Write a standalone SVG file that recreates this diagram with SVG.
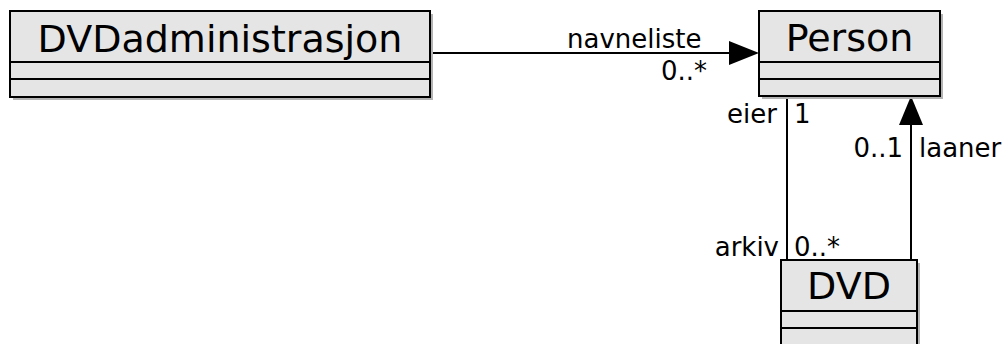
<svg xmlns="http://www.w3.org/2000/svg" width="1006" height="344" viewBox="0 0 1006 344">
<defs>
<style>
.shadow{fill:#b3b3b3;stroke:none}
.box{fill:#e5e5e5;stroke:#000;stroke-width:2}
.div{stroke:#000;stroke-width:2;fill:none}
.title{font-family:"DejaVu Sans",sans-serif;font-size:38px;fill:#000;text-anchor:middle}
.lbl{font-family:"DejaVu Sans",sans-serif;font-size:26px;fill:#000}
.line{stroke:#000;stroke-width:2;fill:none}
.head{fill:#000;stroke:none}
</style>
</defs>
<rect width="1006" height="344" fill="#fff"/>
<g id="connectors">
<line class="line" x1="430" y1="53" x2="731" y2="53"/>
<polygon class="head" points="759,53 729,41 729,65"/>
<line class="line" x1="787" y1="96" x2="787" y2="260"/>
<line class="line" x1="911" y1="123" x2="911" y2="260"/>
<polygon class="head" points="911,96 899,125 923,125"/>
<text class="lbl" x="567" y="48">navneliste</text>
<text class="lbl" x="707" y="80" text-anchor="end">0..*</text>
<text class="lbl" x="777" y="123" text-anchor="end">eier</text>
<text class="lbl" x="794" y="123">1</text>
<text class="lbl" x="903" y="157" text-anchor="end">0..1</text>
<text class="lbl" x="919" y="157">laaner</text>
<text class="lbl" x="779" y="256" text-anchor="end">arkiv</text>
<text class="lbl" x="794" y="256">0..*</text>
</g>
<g id="DVDadministrasjon">
<rect class="shadow" x="13" y="14" width="420" height="86"/>
<rect class="box" x="10" y="11" width="420" height="86"/>
<line class="div" x1="10" y1="62" x2="430" y2="62"/>
<line class="div" x1="10" y1="79" x2="430" y2="79"/>
<text class="title" x="220" y="52">DVDadministrasjon</text>
</g>
<g id="Person">
<rect class="shadow" x="762" y="14" width="181" height="85"/>
<rect class="box" x="759" y="11" width="181" height="85"/>
<line class="div" x1="759" y1="62" x2="940" y2="62"/>
<line class="div" x1="759" y1="79" x2="940" y2="79"/>
<text class="title" x="849.5" y="51">Person</text>
</g>
<g id="DVD">
<rect class="shadow" x="784" y="263" width="136" height="90"/>
<rect class="box" x="781" y="260" width="136" height="90"/>
<line class="div" x1="781" y1="311" x2="917" y2="311"/>
<line class="div" x1="781" y1="328" x2="917" y2="328"/>
<text class="title" x="849" y="299">DVD</text>
</g>
</svg>
